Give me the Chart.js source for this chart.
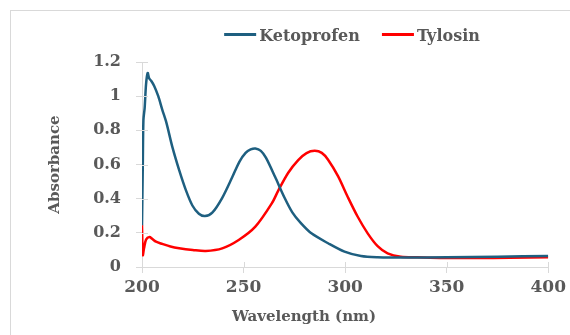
<!DOCTYPE html>
<html>
<head>
<meta charset="utf-8">
<script src="https://cdn.jsdelivr.net/npm/chart.js@4/dist/chart.umd.min.js"></script>
<style>
html,body{margin:0;padding:0;background:#fff;}
canvas{display:block;}
</style>
</head>
<body>
<canvas id="c" width="570" height="335"></canvas>
<script>
// ---- data ----
const seriesNames = ['Ketoprofen', 'Tylosin'];
const seriesColors = ['#1E5F80', '#FF0000'];

const ketoWavelength = [200, 200.4, 200.7, 201.3, 202, 202.8, 203.5, 204.5, 206, 208, 210, 212, 215, 218.3, 221.6, 224.8, 228, 231, 234.6, 239.5, 244.4, 248, 251, 253.5, 255.8, 258.5, 261, 265.5, 270, 274, 278, 283.4, 291.6, 299.7, 307.8, 316, 330, 350, 375, 400];
const ketoAbsorbance = [0.245, 0.6, 0.86, 0.93, 1.07, 1.136, 1.105, 1.09, 1.06, 1.0, 0.92, 0.845, 0.70, 0.567, 0.45, 0.36, 0.312, 0.298, 0.318, 0.405, 0.525, 0.617, 0.668, 0.688, 0.694, 0.68, 0.64, 0.528, 0.41, 0.32, 0.26, 0.197, 0.139, 0.09, 0.064, 0.057, 0.055, 0.057, 0.06, 0.065];

const tyloWavelength = [200, 200.4, 201, 202, 203.7, 205, 206.9, 210, 214, 218.3, 225, 231.4, 239.5, 247.6, 255.8, 263.9, 267.2, 272, 276.9, 281, 285, 288.5, 291.6, 296.5, 301.3, 306.2, 311.1, 316, 320.9, 327.4, 335.5, 348.6, 364.8, 381, 400];
const tyloAbsorbance = [0.245, 0.07, 0.11, 0.16, 0.175, 0.165, 0.148, 0.135, 0.12, 0.11, 0.1, 0.094, 0.109, 0.158, 0.236, 0.372, 0.45, 0.552, 0.626, 0.667, 0.68, 0.668, 0.628, 0.532, 0.41, 0.294, 0.197, 0.122, 0.08, 0.06, 0.057, 0.053, 0.053, 0.054, 0.057];

const xTickValues = [200, 250, 300, 350, 400];
const yTickValues = [0, 0.2, 0.4, 0.6, 0.8, 1, 1.2];
const yTickLabels = ['0', '0.2', '0.4', '0.6', '0.8', '1', '1.2'];
const xTitle = 'Wavelength (nm)';
const yTitle = 'Absorbance';

// ---- build ----
function pts(xs, ys) { return xs.map((x, i) => ({x: x, y: ys[i]})); }

const TEXT = '#595959';
const AXIS = '#d9d9d9';
const FONT = '"DejaVu Serif", serif';

const decor = {
  id: 'decor',
  beforeDraw(chart) {
    const ctx = chart.ctx;
    ctx.save();
    ctx.strokeStyle = AXIS;
    ctx.lineWidth = 1;
    ctx.strokeRect(10.5, 10.5, 700, 700);
    ctx.restore();
  },
  afterDraw(chart) {
    const ctx = chart.ctx;
    const xs = chart.scales.x, ys = chart.scales.y;
    const a = chart.chartArea;
    ctx.save();
    // inner half of cross tick marks
    ctx.strokeStyle = AXIS;
    ctx.lineWidth = 1;
    ctx.beginPath();
    xTickValues.forEach(v => {
      const px = Math.round(xs.getPixelForValue(v)) + 0.5;
      ctx.moveTo(px, a.bottom); ctx.lineTo(px, a.bottom - 5);
    });
    yTickValues.forEach(v => {
      const py = Math.round(ys.getPixelForValue(v)) + 0.5;
      ctx.moveTo(a.left, py); ctx.lineTo(a.left + 6, py);
    });
    ctx.stroke();

    // x axis title
    ctx.fillStyle = TEXT;
    ctx.font = 'bold 15px ' + FONT;
    ctx.textAlign = 'center';
    ctx.textBaseline = 'alphabetic';
    ctx.fillText(xTitle, 304, 321);

    // legend
    ctx.font = 'bold 16px ' + FONT;
    ctx.textAlign = 'left';
    const lineLen = 32, gap = 3, spacing = 22;
    const widths = chart.data.datasets.map(d => ctx.measureText(d.label).width);
    let total = 0;
    widths.forEach((w, i) => { total += lineLen + gap + w + (i < widths.length - 1 ? spacing : 0); });
    let x = 352 - total / 2;
    chart.data.datasets.forEach((d, i) => {
      ctx.strokeStyle = d.borderColor;
      ctx.lineWidth = 3;
      ctx.beginPath();
      ctx.moveTo(x, 34.5); ctx.lineTo(x + lineLen, 34.5);
      ctx.stroke();
      ctx.fillStyle = TEXT;
      ctx.fillText(d.label, x + lineLen + gap, 40.7);
      x += lineLen + gap + widths[i] + spacing;
    });
    ctx.restore();
  }
};

new Chart(document.getElementById('c'), {
  type: 'line',
  data: {
    datasets: [
      {label: seriesNames[0], data: pts(ketoWavelength, ketoAbsorbance), borderColor: seriesColors[0], backgroundColor: seriesColors[0], borderWidth: 2.5, pointRadius: 0, tension: 0.3, fill: false},
      {label: seriesNames[1], data: pts(tyloWavelength, tyloAbsorbance), borderColor: seriesColors[1], backgroundColor: seriesColors[1], borderWidth: 2.5, pointRadius: 0, tension: 0.3, fill: false}
    ]
  },
  options: {
    responsive: false,
    animation: false,
    events: [],
    layout: {padding: {top: 62, right: 18, left: 0, bottom: 0}},
    plugins: {legend: {display: false}, tooltip: {enabled: false}},
    scales: {
      x: {
        type: 'linear', min: 200, max: 400,
        afterFit(s) { s.height = 68; },
        afterBuildTicks(s) { s.ticks = xTickValues.map(v => ({value: v})); },
        ticks: {color: TEXT, font: {family: FONT, size: 17, weight: 'bold'}, padding: 4, maxRotation: 0},
        grid: {drawOnChartArea: false, color: AXIS, tickLength: 6},
        border: {color: AXIS}
      },
      y: {
        type: 'linear', min: 0, max: 1.2,
        afterFit(s) { s.width = 142; },
        afterBuildTicks(s) { s.ticks = yTickValues.map(v => ({value: v})); },
        ticks: {color: TEXT, font: {family: FONT, size: 16, weight: 'bold'}, padding: 15,
          callback: (v) => { const i = yTickValues.findIndex(t => Math.abs(t - v) < 1e-9); return i >= 0 ? yTickLabels[i] : ''; }},
        grid: {drawOnChartArea: false, color: AXIS, tickLength: 6},
        border: {color: AXIS},
        title: {display: true, text: yTitle, color: TEXT, font: {family: FONT, size: 15, weight: 'bold'}, padding: {top: 46, bottom: 0}}
      }
    }
  },
  plugins: [decor]
});
</script>
</body>
</html>
